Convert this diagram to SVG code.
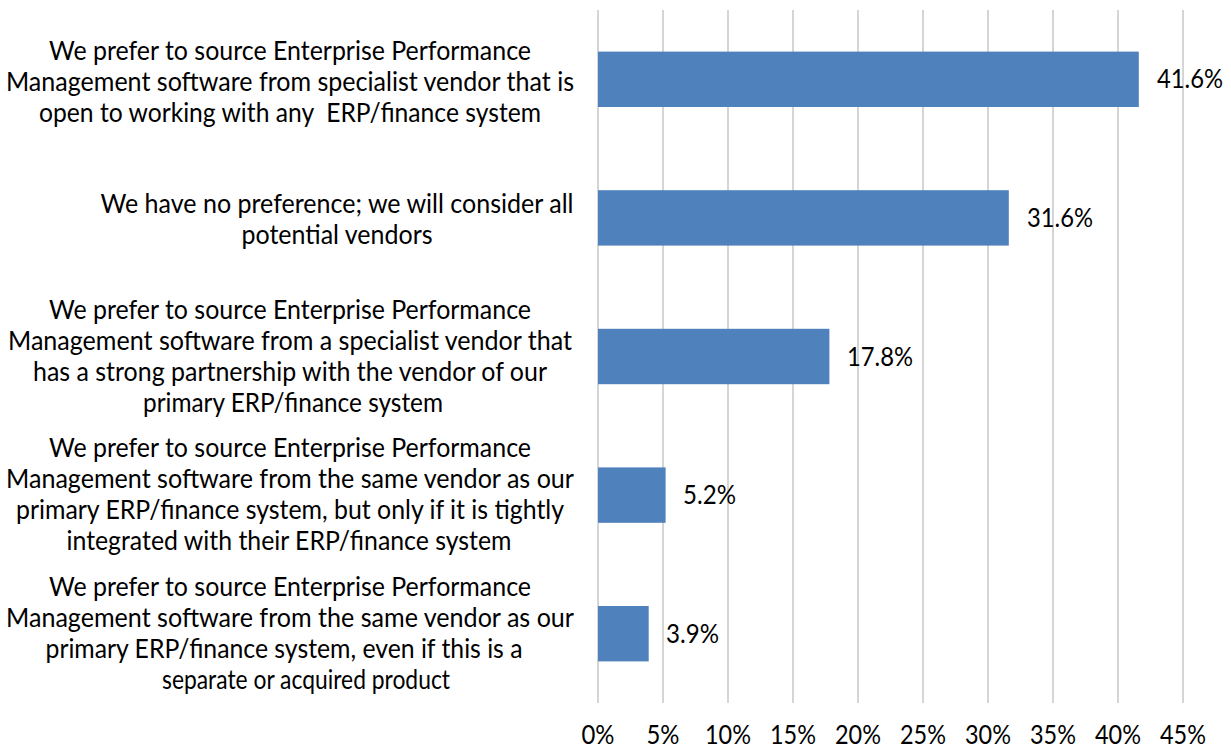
<svg xmlns="http://www.w3.org/2000/svg" width="1231" height="749" viewBox="0 0 1231 749">
<style>
text{font-family:Lato,"Liberation Sans",sans-serif;font-size:26.67px;fill:#000;}
.c{text-anchor:middle;}
.grid line{stroke:#BFBFBF;stroke-width:1.3;}
.bar{fill:#4F81BD;}
</style>
<rect width="1231" height="749" fill="#fff"/>
<g id="gridlines" class="grid">
<line x1="598" y1="10" x2="598" y2="703"/>
<line x1="663" y1="10" x2="663" y2="703"/>
<line x1="728" y1="10" x2="728" y2="703"/>
<line x1="793" y1="10" x2="793" y2="703"/>
<line x1="858" y1="10" x2="858" y2="703"/>
<line x1="923" y1="10" x2="923" y2="703"/>
<line x1="988" y1="10" x2="988" y2="703"/>
<line x1="1053" y1="10" x2="1053" y2="703"/>
<line x1="1118" y1="10" x2="1118" y2="703"/>
<line x1="1183" y1="10" x2="1183" y2="703"/>
</g>
<g id="axis-labels" class="c">
<text x="598" y="744" textLength="33" lengthAdjust="spacingAndGlyphs">0%</text>
<text x="663" y="744" textLength="33" lengthAdjust="spacingAndGlyphs">5%</text>
<text x="728" y="744" textLength="46" lengthAdjust="spacingAndGlyphs">10%</text>
<text x="793" y="744" textLength="46" lengthAdjust="spacingAndGlyphs">15%</text>
<text x="858" y="744" textLength="46" lengthAdjust="spacingAndGlyphs">20%</text>
<text x="923" y="744" textLength="46" lengthAdjust="spacingAndGlyphs">25%</text>
<text x="988" y="744" textLength="46" lengthAdjust="spacingAndGlyphs">30%</text>
<text x="1053" y="744" textLength="46" lengthAdjust="spacingAndGlyphs">35%</text>
<text x="1118" y="744" textLength="46" lengthAdjust="spacingAndGlyphs">40%</text>
<text x="1183" y="744" textLength="46" lengthAdjust="spacingAndGlyphs">45%</text>
</g>
<g id="bar1">
<rect class="bar" x="598" y="51.6" width="540.8" height="55.4"/>
<text x="1157" y="88" textLength="66" lengthAdjust="spacingAndGlyphs">41.6%</text>
<g class="c">
<text x="290" y="60" textLength="482" lengthAdjust="spacingAndGlyphs">We prefer to source Enterprise Performance</text>
<text x="290" y="91" textLength="568" lengthAdjust="spacingAndGlyphs">Management software from specialist vendor that is</text>
<text x="290" y="122" textLength="502" lengthAdjust="spacingAndGlyphs" xml:space="preserve">open to working with any  ERP/finance system</text>
</g>
</g>
<g id="bar2">
<rect class="bar" x="598" y="190.2" width="410.8" height="55.4"/>
<text x="1027" y="227" textLength="66" lengthAdjust="spacingAndGlyphs">31.6%</text>
<g class="c">
<text x="337" y="213" textLength="473" lengthAdjust="spacingAndGlyphs">We have no preference; we will consider all</text>
<text x="337" y="244" textLength="191" lengthAdjust="spacingAndGlyphs">potential vendors</text>
</g>
</g>
<g id="bar3">
<rect class="bar" x="598" y="328.8" width="231.4" height="55.4"/>
<text x="847" y="365.5" textLength="66" lengthAdjust="spacingAndGlyphs">17.8%</text>
<g class="c">
<text x="290" y="319" textLength="482" lengthAdjust="spacingAndGlyphs">We prefer to source Enterprise Performance</text>
<text x="290" y="350" textLength="564" lengthAdjust="spacingAndGlyphs">Management software from a specialist vendor that</text>
<text x="290" y="381" textLength="514" lengthAdjust="spacingAndGlyphs">has a strong partnership with the vendor of our</text>
<text x="293" y="412" textLength="300" lengthAdjust="spacingAndGlyphs">primary ERP/finance system</text>
</g>
</g>
<g id="bar4">
<rect class="bar" x="598" y="467.4" width="67.6" height="55.4"/>
<text x="683" y="503.5" textLength="53" lengthAdjust="spacingAndGlyphs">5.2%</text>
<g class="c">
<text x="290" y="457" textLength="482" lengthAdjust="spacingAndGlyphs">We prefer to source Enterprise Performance</text>
<text x="290" y="488" textLength="568" lengthAdjust="spacingAndGlyphs">Management software from the same vendor as our</text>
<text x="290" y="519" textLength="548" lengthAdjust="spacingAndGlyphs">primary ERP/finance system, but only if it is tightly</text>
<text x="289" y="550" textLength="445" lengthAdjust="spacingAndGlyphs">integrated with their ERP/finance system</text>
</g>
</g>
<g id="bar5">
<rect class="bar" x="598" y="606" width="50.7" height="55.4"/>
<text x="666" y="642.5" textLength="53" lengthAdjust="spacingAndGlyphs">3.9%</text>
<g class="c">
<text x="290" y="596" textLength="482" lengthAdjust="spacingAndGlyphs">We prefer to source Enterprise Performance</text>
<text x="290" y="627" textLength="568" lengthAdjust="spacingAndGlyphs">Management software from the same vendor as our</text>
<text x="284" y="658" textLength="477" lengthAdjust="spacingAndGlyphs">primary ERP/finance system, even if this is a</text>
<text x="306" y="689" textLength="288" lengthAdjust="spacingAndGlyphs">separate or acquired product</text>
</g>
</g>
</svg>
